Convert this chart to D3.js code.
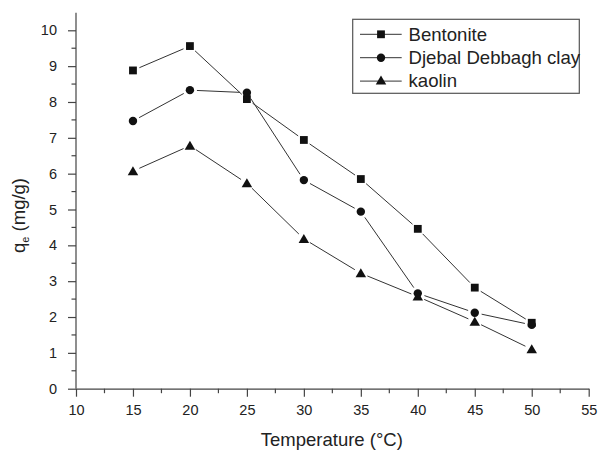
<!DOCTYPE html>
<html><head><meta charset="utf-8">
<script src="https://cdn.jsdelivr.net/npm/d3@7"></script>
<style>
body{margin:0;background:#fff;}
svg{display:block;font-family:Arial,"Liberation Sans",sans-serif;}
</style></head>
<body><svg id="c" width="598" height="451"></svg>
<script>
const temperatures = [15, 20, 25, 30, 35, 40, 45, 50];
const bentonite = [8.88, 9.56, 8.08, 6.94, 5.85, 4.46, 2.82, 1.84];
const djebal = [7.47, 8.33, 8.26, 5.82, 4.94, 2.66, 2.12, 1.78];
const kaolin = [6.07, 6.78, 5.73, 4.18, 3.22, 2.57, 1.87, 1.10];
const seriesNames = ["Bentonite", "Djebal Debbagh clay", "kaolin"];
const xTicks = [10, 15, 20, 25, 30, 35, 40, 45, 50, 55];
const yTicks = [0, 1, 2, 3, 4, 5, 6, 7, 8, 9, 10];

const svg = d3.select("#c");
const x = d3.scaleLinear().domain([10, 55]).range([76, 588.7]);
const y = d3.scaleLinear().domain([0, 10]).range([388.7, 30.3]);
const axisColor = "#444", textColor = "#222", ink = "#111";

// minor ticks
const xMinor = d3.range(12.5, 55, 5);
const yMinor = d3.range(0.5, 10.5, 1);
svg.append("g").selectAll("line").data(xMinor).join("line")
  .attr("x1", d => x(d)).attr("x2", d => x(d))
  .attr("y1", y(0)).attr("y2", y(0) + 4.5)
  .attr("stroke", axisColor).attr("stroke-width", 1.2);
svg.append("g").selectAll("line").data(yMinor).join("line")
  .attr("y1", d => y(d)).attr("y2", d => y(d))
  .attr("x1", x(10)).attr("x2", x(10) - 4.5)
  .attr("stroke", axisColor).attr("stroke-width", 1.2);

// x axis
const gx = svg.append("g").attr("transform", `translate(0,${y(0)})`)
  .call(d3.axisBottom(x).tickValues(xTicks).tickSize(8).tickSizeOuter(0).tickPadding(8));
gx.select(".domain").attr("stroke", axisColor).attr("stroke-width", 1.2);
gx.selectAll(".tick line").attr("stroke", axisColor).attr("stroke-width", 1.2);
gx.selectAll(".tick text").attr("fill", textColor).attr("font-size", 14.5)
  .attr("font-family", "Arial, 'Liberation Sans', sans-serif");

// y axis
const gy = svg.append("g").attr("transform", `translate(${x(10)},0)`)
  .call(d3.axisLeft(y).tickValues(yTicks).tickSize(8).tickSizeOuter(0).tickPadding(11));
gy.select(".domain").remove();
gy.append("line").attr("x1", 0).attr("x2", 0).attr("y1", y(0)).attr("y2", y(10.49))
  .attr("stroke", axisColor).attr("stroke-width", 1.2);
gy.selectAll(".tick line").attr("stroke", axisColor).attr("stroke-width", 1.2);
gy.selectAll(".tick text").attr("fill", textColor).attr("font-size", 14.5)
  .attr("font-family", "Arial, 'Liberation Sans', sans-serif");

// axis titles
svg.append("text").attr("x", (x(10) + x(55)) / 2 - 0.5).attr("y", 446)
  .attr("text-anchor", "middle").attr("font-size", 18.5).attr("fill", textColor)
  .text("Temperature (°C)");
const yt = svg.append("text").attr("transform", "translate(25,215.5) rotate(-90)")
  .attr("text-anchor", "middle").attr("font-size", 18.5).attr("fill", textColor);
yt.append("tspan").text("q");
yt.append("tspan").attr("font-size", 11).attr("dy", 4).text("e");
yt.append("tspan").attr("dy", -4).text(" (mg/g)");

// markers
function marker(g, type, cx, cy) {
  if (type === 0) {
    g.append("rect").attr("x", cx - 3.9).attr("y", cy - 3.9).attr("width", 7.8).attr("height", 7.8).attr("fill", ink);
  } else if (type === 1) {
    g.append("circle").attr("cx", cx).attr("cy", cy).attr("r", 4.2).attr("fill", ink);
  } else {
    const s = 5;
    g.append("path").attr("d", `M${cx},${cy - s}L${cx + s * 1.05},${cy + s * 0.8}L${cx - s * 1.05},${cy + s * 0.8}Z`).attr("fill", ink);
  }
}

const allSeries = [bentonite, djebal, kaolin];
const gap = 7;
allSeries.forEach((vals, si) => {
  const pts = temperatures.map((t, i) => [x(t), y(vals[i])]);
  const g = svg.append("g");
  const segs = d3.pairs(pts);
  g.selectAll("line").data(segs).join("line")
    .each(function([a, b]) {
      const dx = b[0] - a[0], dy = b[1] - a[1], L = Math.hypot(dx, dy);
      const ux = dx / L, uy = dy / L;
      const gg = Math.min(gap, L / 2 - 0.5);
      d3.select(this)
        .attr("x1", a[0] + ux * gg).attr("y1", a[1] + uy * gg)
        .attr("x2", b[0] - ux * gg).attr("y2", b[1] - uy * gg);
    })
    .attr("stroke", "#333").attr("stroke-width", 1);
  pts.forEach(p => marker(g, si, p[0], p[1]));
});

// legend
const lg = svg.append("g");
lg.append("rect").attr("x", 352.7).attr("y", 19.3).attr("width", 226.6).attr("height", 74)
  .attr("fill", "#fff").attr("stroke", "#555").attr("stroke-width", 1.2);
seriesNames.forEach((name, i) => {
  const cy = 34.3 + i * 23.4;
  lg.append("line").attr("x1", 360).attr("x2", 401.7).attr("y1", cy).attr("y2", cy)
    .attr("stroke", "#333").attr("stroke-width", 1);
  marker(lg, i, 381, cy + (i === 2 ? -0.5 : 0));
  lg.append("text").attr("x", 408.5).attr("y", cy + 6.3).attr("font-size", 18.6)
    .attr("fill", textColor).text(name);
});
</script></body></html>
